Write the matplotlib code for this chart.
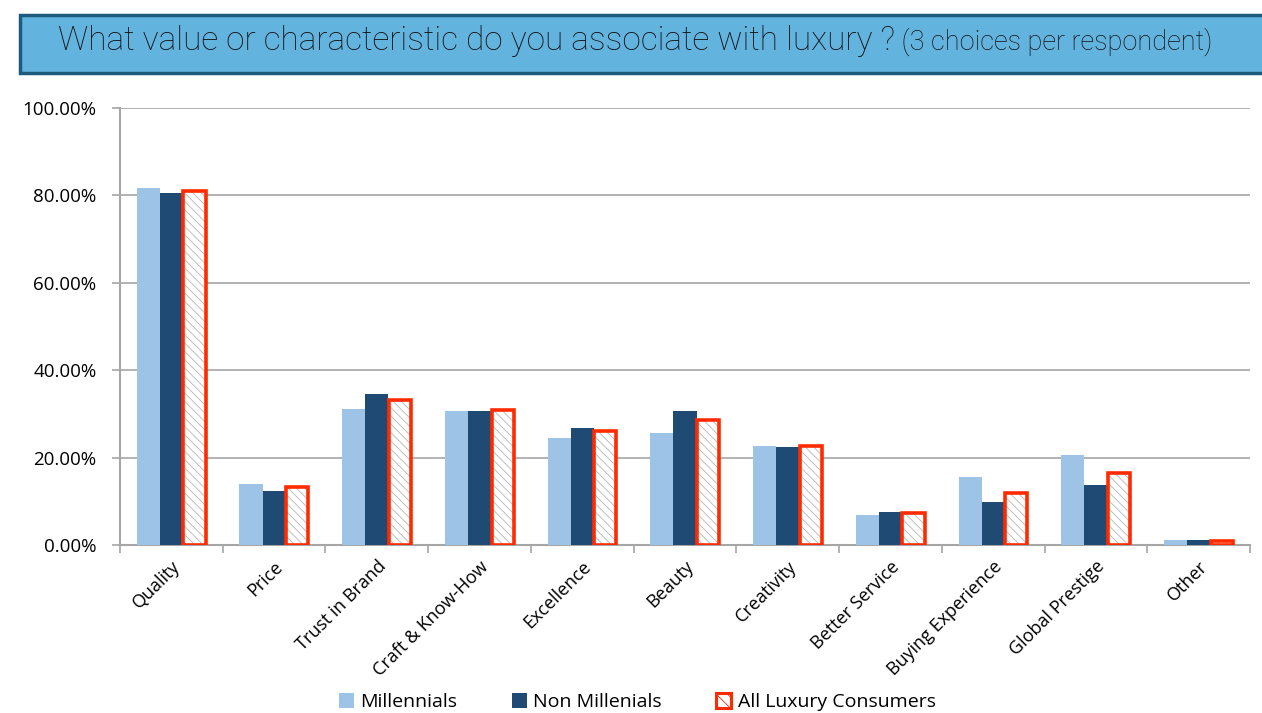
import numpy as np
import matplotlib.pyplot as plt
from matplotlib.patches import Rectangle
from matplotlib.ticker import FuncFormatter, FixedLocator

categories = ['Quality', 'Price', 'Trust in Brand', 'Craft & Know-How', 'Excellence',
              'Beauty', 'Creativity', 'Better Service', 'Buying Experience',
              'Global Prestige', 'Other']
millennials = [81.8, 14.0, 31.1, 30.7, 24.5, 25.6, 22.7, 6.9, 15.6, 20.5, 1.1]
non_millennials = [80.6, 12.4, 34.5, 30.6, 26.7, 30.6, 22.4, 7.6, 9.8, 13.7, 1.1]
all_luxury = [81.1, 13.2, 33.1, 30.8, 26.1, 28.7, 22.7, 7.4, 12.0, 16.5, 1.0]

light_blue = '#9DC3E6'
dark_blue = '#1F4A73'
red = '#FF2A00'
grid_gray = '#A6A6A6'
label_font = 'Open Sans'

plt.rcParams['hatch.linewidth'] = 0.6

fig = plt.figure(figsize=(12.62, 7.13), dpi=100)
ax = fig.add_axes([120 / 1262, 168 / 713, 1130 / 1262, 437 / 713])

x = np.arange(len(categories))
w = 0.225
ax.bar(x - w, millennials, w, color=light_blue, zorder=3, label='Millennials')
ax.bar(x, non_millennials, w, color=dark_blue, zorder=3, label='Non Millenials')
# hatched fill first (gray hatch), then the red outline on top
ax.bar(x + w, all_luxury, w * 0.96, facecolor='white', edgecolor='#B5B5B5', linewidth=0,
       hatch='\\\\\\\\', zorder=3)
ax.bar(x + w, all_luxury, w * 0.96, fill=False, edgecolor=red, linewidth=2.6, zorder=4)
# legend proxy for the combined style
proxy = ax.bar([0], [0], 0, facecolor='white', edgecolor=red, linewidth=2.2,
               hatch='\\\\\\', label='All Luxury Consumers')

ax.set_xlim(-0.5, len(categories) - 0.5)
ax.set_ylim(0, 100)
ax.set_yticks(np.arange(0, 101, 20))
ax.yaxis.set_major_formatter(FuncFormatter(lambda v, p: f'{v:.2f}%'))
ax.grid(axis='y', color=grid_gray, linewidth=1.2, zorder=0)

# category labels sit between the boundary ticks
ax.xaxis.set_major_locator(FixedLocator(np.arange(-0.5, len(categories), 1.0)))
ax.xaxis.set_minor_locator(FixedLocator(x))
ax.set_xticklabels([])
ax.set_xticklabels(categories, minor=True, rotation=45, ha='right',
                   rotation_mode='anchor', fontsize=13, family=label_font)
ax.tick_params(axis='x', which='minor', length=0, pad=9)
ax.tick_params(axis='x', which='major', length=6, color=grid_gray, width=1.2)
ax.tick_params(axis='y', length=6, color=grid_gray, width=1.2, labelsize=13.5, pad=11)
for lbl in ax.get_yticklabels():
    lbl.set_family(label_font)

for side in ['top', 'right']:
    ax.spines[side].set_visible(False)
for side in ['left', 'bottom']:
    ax.spines[side].set_color(grid_gray)
    ax.spines[side].set_linewidth(1.5)

leg = ax.legend(loc='center', bbox_to_anchor=(0.458, -0.36), ncol=3, frameon=False,
                handlelength=0.75, handleheight=0.75, handletextpad=0.35,
                columnspacing=2.8, prop={'family': label_font, 'size': 14})

# title banner
banner = Rectangle((20 / 1262, 640 / 713), 1.0, 58 / 713, transform=fig.transFigure,
                   facecolor='#63B3DF', edgecolor='#1D5A7E', linewidth=2.5, zorder=-1)
fig.patches.append(banner)
t1 = fig.text(58 / 1262, 663 / 713, 'What value or characteristic do you associate with luxury ?',
              fontsize=24, family='Roboto', weight='light', va='baseline', ha='left',
              color='#111111')
fig.text(0, 0, ' (3 choices per respondent)', fontsize=19.5, family='Roboto', weight='light',
         color='#111111', va='baseline', ha='left',
         transform=fig.transFigure)
fig.canvas.draw()
ext = t1.get_window_extent()
fig.texts[-1].set_position((ext.x1 / fig.bbox.width, 663 / 713))

fig.savefig('out.png', dpi=100)
